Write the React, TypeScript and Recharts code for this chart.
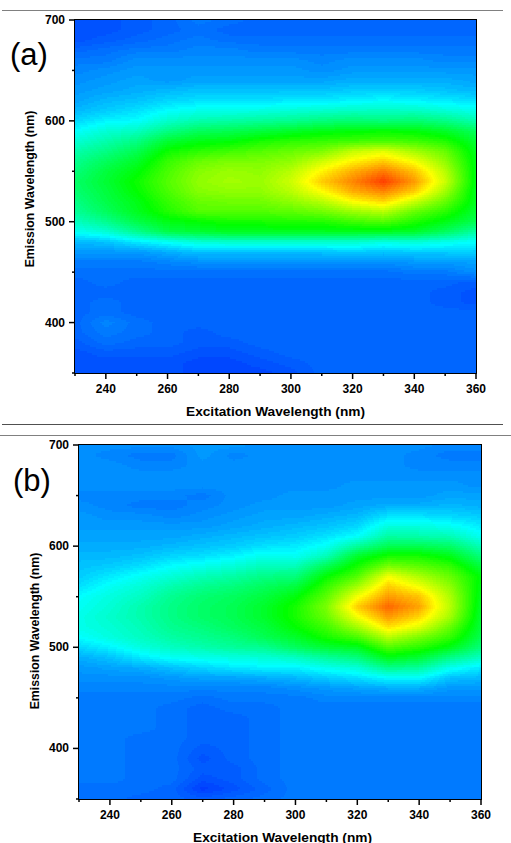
import React from "react";
import { ScatterChart, Scatter, XAxis, YAxis, ReferenceArea } from "recharts";

const excitation = [230, 240, 250, 260, 270, 280, 290, 300, 310, 320, 330, 340, 350, 360];
const emission = [700, 690, 680, 670, 660, 650, 640, 630, 620, 610, 600, 590, 580, 570, 560, 550, 540, 530, 520, 510, 500, 490, 480, 470, 460, 450, 440, 430, 420, 410, 400, 390, 380, 370, 360, 350];
const xTicks = [230, 240, 250, 260, 270, 280, 290, 300, 310, 320, 330, 340, 350, 360];
const yTicks = [350, 400, 450, 500, 550, 600, 650, 700];

// Panel (a): relative intensity (0-100) per excitation wavelength, emission 700 -> 350
const a230 = [8,8,8,10,12,13,14,15,16,18,21,25,29,33,36,38,40,39,37,35,31,26,18,15,12,11,10,10,10,10,10,10,9,8,8,8];
const a240 = [8,8,9,11,12,14,15,16,18,20,24,29,33,37,41,44,45,44,43,41,36,29,19,15,12,11,11,10,11,11,13,12,11,9,8,8];
const a250 = [9,9,10,12,14,15,16,17,19,22,25,31,37,42,46,49,51,50,48,47,43,36,23,15,12,11,10,10,10,10,11,11,10,9,8,8];
const a260 = [10,10,11,12,14,15,15,18,21,25,30,37,45,51,55,57,58,57,55,53,48,43,26,17,13,11,10,10,10,10,10,10,10,9,8,8];
const a270 = [12,11,12,13,14,15,16,19,22,27,33,41,48,54,60,63,64,63,60,58,50,45,29,19,14,11,10,10,10,10,10,9,9,8,7,7];
const a280 = [11,10,11,13,14,15,16,19,22,27,34,42,49,56,62,65,66,64,61,58,52,47,30,19,14,11,10,10,10,10,10,10,9,8,7,7];
const a290 = [10,10,11,12,14,15,16,19,22,28,35,44,52,58,62,64,65,64,61,58,52,47,30,19,14,11,10,10,10,10,10,10,10,9,8,7];
const a300 = [10,10,11,12,14,15,16,19,23,29,36,46,54,60,64,68,70,68,64,59,53,47,30,19,14,11,10,10,10,10,10,10,10,10,9,8];
const a310 = [10,10,11,12,13,14,16,19,23,30,38,48,55,62,70,76,80,75,68,61,53,47,30,19,14,11,10,10,10,10,10,10,10,10,10,10];
const a320 = [10,10,11,12,14,15,17,20,24,31,39,49,56,69,76,83,87,83,75,65,56,47,30,20,14,11,10,10,10,10,10,10,10,10,10,10];
const a330 = [10,10,11,12,14,15,17,20,25,31,38,50,57,72,80,88,94,87,79,68,58,47,28,19,14,11,10,10,10,10,10,10,10,10,10,10];
const a340 = [10,10,11,12,14,15,17,20,24,31,39,49,56,66,74,81,85,80,70,60,53,46,29,20,15,12,10,10,10,10,10,10,10,10,10,10];
const a350 = [10,10,11,12,13,15,17,19,23,29,37,46,53,60,64,68,70,66,60,54,48,41,27,20,15,12,10,9,9,10,10,10,10,10,10,10];
const a360 = [10,10,11,12,13,15,16,18,22,27,33,41,45,47,48,48,48,47,47,45,42,34,25,20,16,14,9,8,8,10,10,10,10,10,10,10];

// Panel (b)
const b230 = [14,14,14,14,14,13,14,15,15,16,17,18,19,20,22,25,26,27,27,25,21,17,15,14,13,12,12,12,12,12,12,12,12,12,11,11];
const b240 = [14,13,14,14,14,13,13,14,15,16,17,18,20,23,26,28,29,30,29,28,24,19,16,14,13,12,12,12,12,12,12,12,12,12,11,11];
const b250 = [14,12,13,14,14,13,12,14,15,16,17,19,22,26,29,31,33,33,32,31,28,23,17,14,13,12,12,12,12,11,11,11,11,11,11,10];
const b260 = [14,12,13,14,14,13,12,13,15,16,18,21,25,29,33,36,37,37,36,34,31,26,19,15,13,12,11,11,11,11,11,11,11,11,10,10];
const b270 = [15,15,14,14,14,12,13,14,15,17,19,22,27,32,36,39,40,40,38,36,33,27,21,16,13,11,10,10,10,10,9,8,9,8,6,9];
const b280 = [15,13,14,14,14,14,14,15,16,18,20,24,29,34,38,41,42,42,41,38,35,28,23,16,13,12,11,10,10,10,10,10,9,9,8,10];
const b290 = [14,14,14,14,14,14,15,16,17,19,22,27,32,37,41,44,46,46,44,42,36,29,24,17,13,12,11,11,11,11,11,11,11,11,10,11];
const b300 = [14,14,14,14,14,15,15,16,18,20,23,26,32,38,44,49,52,52,50,46,41,31,24,18,14,12,12,12,12,12,12,12,12,12,12,12];
const b310 = [14,14,14,14,14,15,15,17,19,22,26,32,42,50,55,59,62,60,56,52,45,35,27,20,15,13,12,12,12,12,12,12,12,12,12,12];
const b320 = [14,14,14,14,15,15,16,18,21,25,35,46,52,58,66,74,80,74,66,57,47,38,29,22,16,13,12,12,12,12,12,12,12,12,12,12];
const b330 = [14,14,14,14,15,15,17,22,28,34,42,52,62,74,80,85,90,85,78,68,58,48,37,25,17,13,12,12,12,12,12,12,12,12,12,12];
const b340 = [14,13,13,14,15,15,17,22,28,33,42,52,59,67,74,81,84,79,72,62,54,45,35,25,17,13,12,12,12,12,12,12,12,12,12,12];
const b350 = [13,12,13,14,15,16,18,21,26,32,40,48,55,60,64,67,68,66,60,55,48,37,27,19,15,13,12,12,12,12,12,12,12,12,12,12];
const b360 = [13,12,13,14,14,16,17,20,23,26,32,38,44,49,48,47,46,45,44,42,38,31,23,18,15,13,12,12,12,12,12,12,12,12,12,12];

const columnsA = [a230, a240, a250, a260, a270, a280, a290, a300, a310, a320, a330, a340, a350, a360];
const columnsB = [b230, b240, b250, b260, b270, b280, b290, b300, b310, b320, b330, b340, b350, b360];

const FONT = "'Liberation Sans', Arial, sans-serif";

function toCells(cols: number[][]) {
  const out: any[] = [];
  for (let c = 0; c < excitation.length - 1; c++) {
    for (let r = 0; r < emission.length - 1; r++) {
      out.push({
        x: excitation[c],
        y: emission[r + 1],
        tl: cols[c][r],
        tr: cols[c + 1][r],
        bl: cols[c][r + 1],
        br: cols[c + 1][r + 1],
      });
    }
  }
  return out;
}

function colour(v: number) {
  const q = Math.round(v) / 100;
  const t = Math.max(0, Math.min(1, q)) * 4;
  let r = 0, g = 0, b = 0;
  if (t < 1) { g = t; b = 1; }
  else if (t < 2) { g = 1; b = 2 - t; }
  else if (t < 3) { r = t - 2; g = 1; }
  else { r = 1; g = 4 - t; }
  return `rgb(${Math.round(r * 255)},${Math.round(g * 255)},${Math.round(b * 255)})`;
}

function makeCell(cellW: number, cellH: number) {
  return function Cell(props: any) {
    const { cx, cy, payload: p } = props;
    const x0 = Math.round(cx), x1 = Math.round(cx + cellW);
    const y0 = Math.round(cy - cellH), y1 = Math.round(cy);
    const rects: React.ReactNode[] = [];
    for (let y = y0; y < y1; y += 2) {
      const fy = (y + 1 - (cy - cellH)) / cellH;
      let start = x0;
      let cur = "";
      for (let x = x0; x <= x1; x++) {
        let col = "";
        if (x < x1) {
          const fx = (x + 0.5 - cx) / cellW;
          const top = p.tl + (p.tr - p.tl) * fx;
          const bot = p.bl + (p.br - p.bl) * fx;
          col = colour(top + (bot - top) * fy);
        }
        if (col !== cur) {
          if (cur) rects.push(<rect key={`${y}-${start}`} x={start} y={y} width={x - start} height={Math.min(2, y1 - y)} fill={cur} shapeRendering="crispEdges" />);
          start = x;
          cur = col;
        }
      }
    }
    return <g>{rects}</g>;
  };
}

function XTick({ x, y, payload }: any) {
  const major = payload.value % 20 === 0;
  return (
    <g>
      <line x1={x} x2={x} y1={y} y2={y + (major ? 6 : 3)} stroke="#000" strokeWidth={1.5} />
      {major && (
        <text x={x} y={y + 20} textAnchor="middle" fontFamily={FONT} fontWeight="bold" fontSize={12} fill="#000">
          {payload.value}
        </text>
      )}
    </g>
  );
}

function YTick({ x, y, payload }: any) {
  const major = payload.value % 100 === 0;
  return (
    <g>
      <line x1={x} x2={x - (major ? 6 : 3)} y1={y} y2={y} stroke="#000" strokeWidth={1.5} />
      {major && (
        <text x={x - 10} y={y + 4} textAnchor="end" fontFamily={FONT} fontWeight="bold" fontSize={12} fill="#000">
          {payload.value}
        </text>
      )}
    </g>
  );
}

function Panel({ cols, left, top, plotW, plotH }: { cols: number[][]; left: number; top: number; plotW: number; plotH: number }) {
  const cellW = plotW / (excitation.length - 1);
  const cellH = plotH / (emission.length - 1);
  const data = toCells(cols);
  const W = 511;
  const H = top + plotH + 70;
  return (
    <div style={{ position: "absolute", left: 0, top: 0 }}>
      <ScatterChart width={W} height={H} margin={{ left: left - 50, top, right: W - left - plotW, bottom: 40 }}>
        <XAxis type="number" dataKey="x" domain={[230, 360]} ticks={xTicks} interval={0} tick={<XTick />} tickLine={false} axisLine={false} height={30} tickSize={0} tickMargin={0} allowDataOverflow />
        <YAxis type="number" dataKey="y" domain={[350, 700]} ticks={yTicks} interval={0} tick={<YTick />} tickLine={false} axisLine={false} width={50} tickSize={0} tickMargin={0} allowDataOverflow />
        <Scatter data={data} isAnimationActive={false} shape={makeCell(cellW, cellH)} />
        <ReferenceArea x1={230} x2={360} y1={350} y2={700} fill="none" stroke="#000" strokeWidth={2} ifOverflow="visible" />
      </ScatterChart>
    </div>
  );
}

const rule = (left: number, top: number, width: number, color: string) => (
  <div style={{ position: "absolute", left, top, width, height: 1, background: color }} />
);

const axisText: React.CSSProperties = { position: "absolute", fontFamily: FONT, fontWeight: "bold", whiteSpace: "nowrap", color: "#000", lineHeight: 1 };

const xLabel = "Excitation Wavelength (nm)";
const yLabel = "Emission Wavelength (nm)";

export default function App() {
  return (
    <div style={{ position: "fixed", left: 0, top: 0, width: 511, height: 843, overflow: "hidden", background: "#fff" }}>
      {rule(2, 10, 501, "#808080")}
      {rule(2, 424, 501, "#505050")}
      {rule(0, 435, 511, "#808080")}
      <Panel cols={columnsA} left={75} top={20} plotW={401} plotH={353} />
      <div style={{ position: "absolute", left: 0, top: 0, width: 511, height: 843 }}>
        <Panel cols={columnsB} left={79} top={445} plotW={402} plotH={354} />
      </div>
      <div style={{ ...axisText, left: 186, top: 405, fontSize: 13.7 }}>{xLabel}</div>
      <div style={{ ...axisText, left: 193, top: 831, fontSize: 13.7 }}>{xLabel}</div>
      <div style={{ ...axisText, left: 30, top: 189, fontSize: 12.3, transform: "translate(-50%,-50%) rotate(-90deg)" }}>{yLabel}</div>
      <div style={{ ...axisText, left: 35, top: 631, fontSize: 12.3, transform: "translate(-50%,-50%) rotate(-90deg)" }}>{yLabel}</div>
      <div style={{ position: "absolute", left: 10, top: 39, fontFamily: FONT, fontSize: 31, lineHeight: 1, color: "#000" }}>(a)</div>
      <div style={{ position: "absolute", left: 13, top: 465, fontFamily: FONT, fontSize: 31, lineHeight: 1, color: "#000" }}>(b)</div>
    </div>
  );
}
